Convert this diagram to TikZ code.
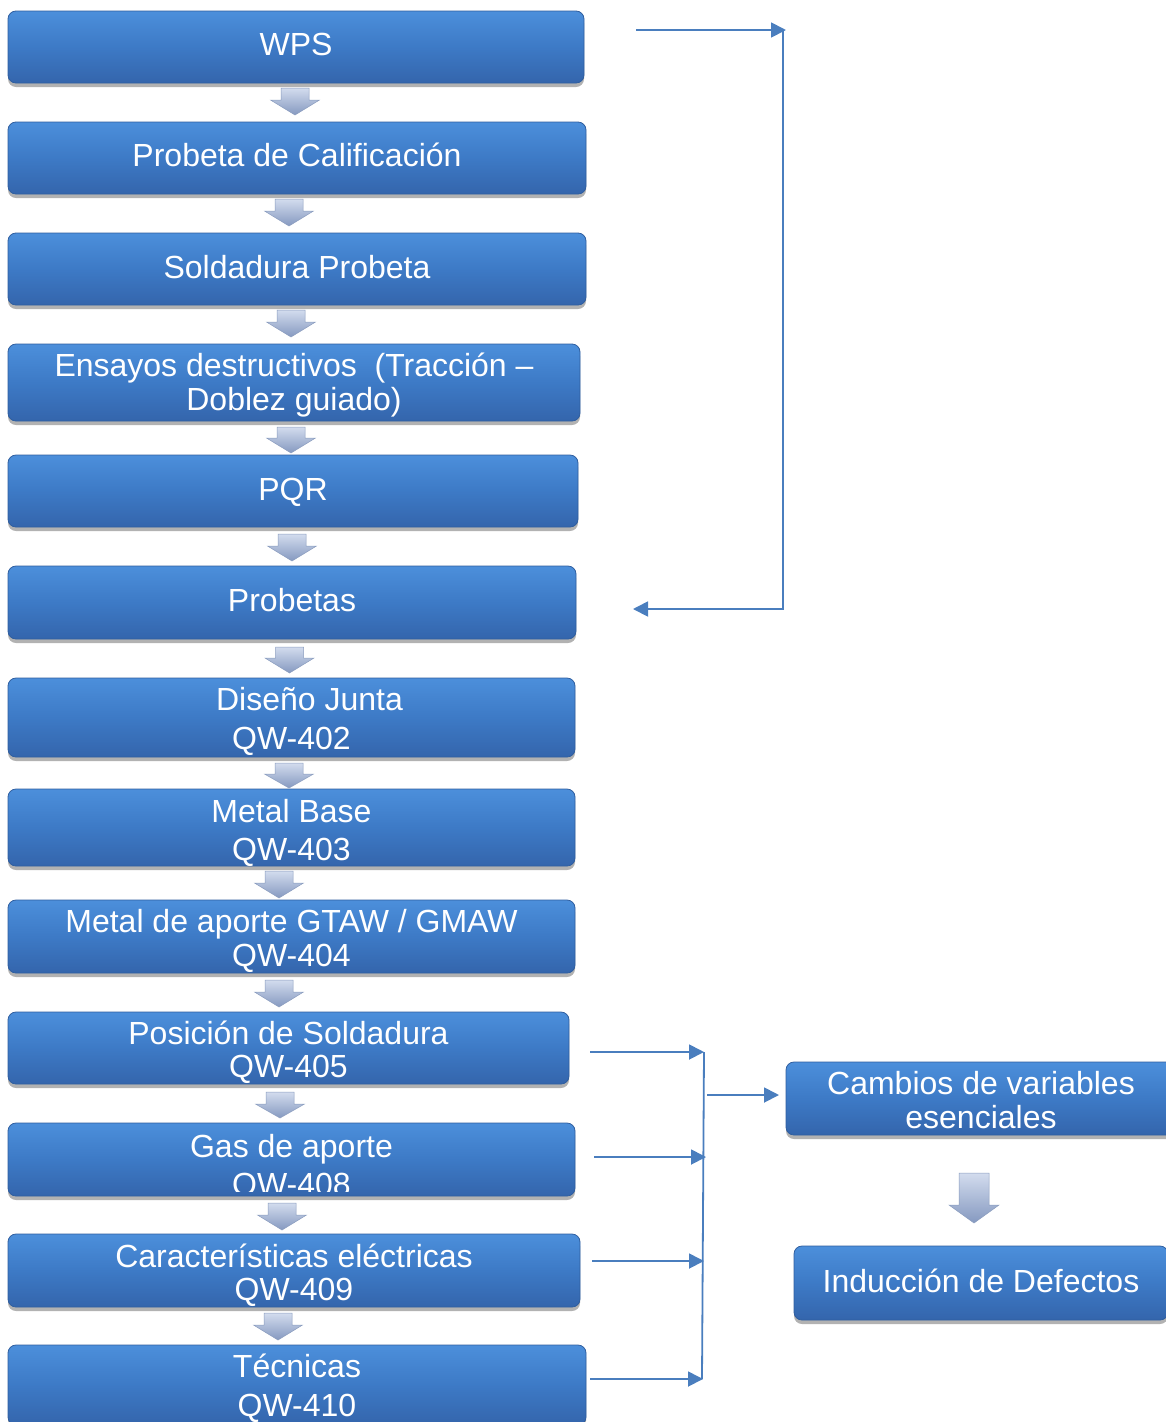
\documentclass[tikz,border=0pt]{standalone}
\usepackage{fontspec}
\setmainfont{Liberation Sans}
\usetikzlibrary{shadows,calc,arrows.meta}
\definecolor{boxtop}{HTML}{4C8FDB}
\definecolor{boxmid}{HTML}{3D7AC6}
\definecolor{boxbot}{HTML}{3465AC}
\definecolor{boxedge}{HTML}{2F5E9F}
\definecolor{arrtop}{HTML}{D3DCEE}
\definecolor{arrbot}{HTML}{8599C0}
\definecolor{arredge}{HTML}{8A9CBE}
\definecolor{conncol}{HTML}{4A7EBE}
\begin{document}
\begin{tikzpicture}[x=1pt,y=-1pt,
  box/.style={draw=boxedge, line width=0.8pt, rounded corners=8pt,
    top color=boxtop, bottom color=boxbot, middle color=boxmid,
    text=white, align=center, inner sep=0pt,
    font=\fontsize{32}{34}\selectfont,
    drop shadow={shadow xshift=0pt, shadow yshift=-4pt, opacity=0.3, fill=black}},
  lh/.style={font=\fontsize{32}{#1}\selectfont},
  tb/.style={text height=#1pt, text depth=0pt},
  conn/.style={draw=conncol, line width=1.8pt, -{Triangle[length=15pt,width=15pt]}},
  pics/darr/.style n args={4}{code={
    \shade[top color=arrtop, bottom color=arrbot, draw=arredge, line width=0.5pt]
      (-#1,0) -- (#1,0) -- (#1,#3) -- (#2,#3) -- (0,#4) -- (-#2,#3) -- (-#1,#3) -- cycle;}}
]
\useasboundingbox (0,0) rectangle (1165,1422);

% left column
\node[box, tb=17, minimum width=576pt, minimum height=72pt] (b1) at (296,47) {WPS};
\node[box, tb=17, minimum width=578pt, minimum height=72pt] (b2) at (297,158) {Probeta de Calificación};
\node[box, tb=19, minimum width=578pt, minimum height=72pt] (b3) at (297,269) {Soldadura Probeta};
\node[box, tb=56, lh=34, minimum width=572pt, minimum height=77pt] (b4) at (294,382.5) {Ensayos destructivos\ \ (Tracción –\\Doblez guiado)};
\node[box, tb=19, minimum width=570pt, minimum height=72pt] (b5) at (293,491) {PQR};
\node[box, tb=18, minimum width=568pt, minimum height=73pt] (b6) at (292,602.5) {Probetas};
\node[box, tb=63, lh=39, minimum width=567pt, minimum height=79pt] (b7) at (291.5,717.5) {\hspace*{36pt}Diseño Junta\\QW-402};
\node[box, tb=66, lh=38, minimum width=567pt, minimum height=77pt] (b8) at (291.5,827.5) {Metal Base\\QW-403};
\node[box, tb=59, lh=34, minimum width=567pt, minimum height=73pt] (b9) at (291.5,936.5) {Metal de aporte GTAW / GMAW\\QW-404};
\node[box, tb=59, lh=33, minimum width=561pt, minimum height=72pt] (b10) at (288.5,1048) {Posición de Soldadura\\QW-405};
\node[box, minimum width=567pt, minimum height=73pt] (b11) at (291.5,1159.5) {};
\begin{scope}
  \clip (b11.north west) rectangle ([yshift=5pt]b11.south east);
  \node[text=white, align=center, lh=38, tb=71, inner sep=0pt] (g11) at (291.5,1159.5) {Gas de aporte\\QW-408};
\end{scope}
\node[box, tb=59, lh=33, minimum width=572pt, minimum height=73pt] (b12) at (294,1270.5) {Características eléctricas\\QW-409};
\node[box, tb=63, lh=39, minimum width=578pt, minimum height=80pt] (b13) at (297,1385) {Técnicas\\QW-410};

% right column
\node[box, tb=59, lh=34, minimum width=390pt, minimum height=73pt] (c1) at (981,1098.5) {Cambios de variables\\esenciales};
\node[box, tb=19, minimum width=374pt, minimum height=74pt] (c2) at (981,1283) {Inducción de Defectos};

% block arrows
\pic (a1) at (295,88) {darr={14}{24.5}{12}{27}};
\pic (a2) at (289,199) {darr={14}{24.5}{12}{27}};
\pic (a3) at (291,310) {darr={14}{24.5}{12}{27}};
\pic (a4) at (291,427) {darr={14}{24.5}{11}{26}};
\pic (a5) at (292,534) {darr={14}{24.5}{12}{27}};
\pic (a6) at (289.5,647) {darr={14}{24.5}{11}{26}};
\pic (a7) at (289,763) {darr={14}{24.5}{11}{25}};
\pic (a8) at (279,871) {darr={14}{24.5}{12}{27}};
\pic (a9) at (279,980) {darr={14}{24.5}{12}{27}};
\pic (a10) at (280,1092) {darr={14}{24.5}{12}{26}};
\pic (a11) at (282,1203) {darr={14}{24.5}{12}{27}};
\pic (a12) at (278,1313) {darr={14}{24.5}{12}{27}};
\pic (a13) at (974,1173) {darr={15}{25}{32}{50}};

% top bracket
\coordinate (tA) at (636,30);
\coordinate (tB) at (786,30);
\coordinate (tC) at (783,30);
\coordinate (tD) at (783,609);
\coordinate (tE) at (633,609);
\draw[conn] (tA) -- (tB);
\draw[conn] (tC) -- (tD) -- (tE);

% bottom bracket
\coordinate (s10) at (590,1052);  \coordinate (e10) at (704,1052);
\coordinate (s11) at (594,1157);  \coordinate (e11) at (706,1157);
\coordinate (s12) at (592,1261);  \coordinate (e12) at (704,1261);
\coordinate (s13) at (590,1379);  \coordinate (e13) at (703,1379);
\coordinate (vT) at (704,1052);   \coordinate (vB) at (702,1379);
\coordinate (m1) at (707,1095);   \coordinate (m2) at (779,1095);
\draw[conn] (s10) -- (e10);
\draw[conn] (s11) -- (e11);
\draw[conn] (s12) -- (e12);
\draw[conn] (s13) -- (e13);
\draw[draw=conncol, line width=1.8pt] (vT) -- (vB);
\draw[conn] (m1) -- (m2);
\end{tikzpicture}
\end{document}
